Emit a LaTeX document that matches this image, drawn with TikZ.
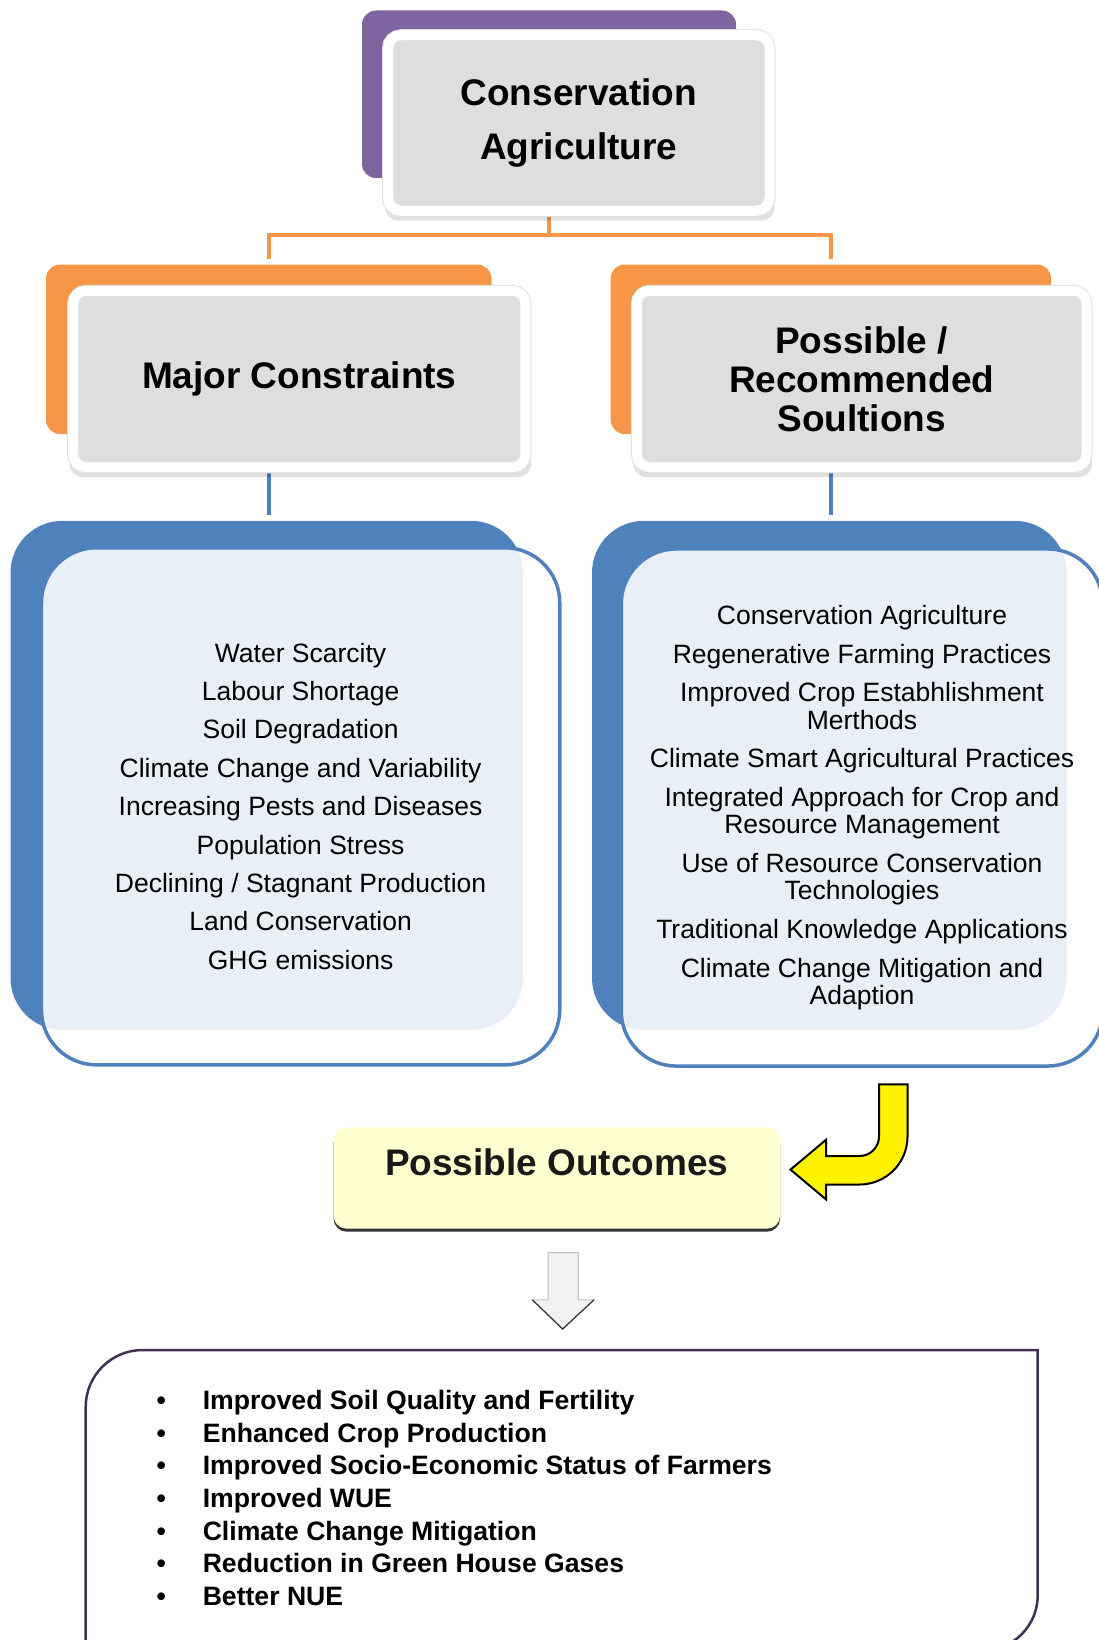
\documentclass[tikz,border=0pt]{standalone}
\usepackage{fontspec}
\setmainfont{Liberation Sans}
\usetikzlibrary{shadows,backgrounds}
\definecolor{caPurple}{RGB}{128,100,162}
\definecolor{ctOrange}{RGB}{247,150,70}
\definecolor{ctBlue}{RGB}{79,129,189}
\definecolor{boxGray}{RGB}{223,222,221}
\definecolor{outYellow}{RGB}{255,255,208}
\definecolor{listPurple}{RGB}{64,49,82}

\begin{document}
\begin{tikzpicture}[x=1pt, y=-1pt,
    backbox/.style={rounded corners=14pt, inner sep=0pt},
    headbox/.style={fill=boxGray, draw=white, line width=10pt, rounded corners=13pt, inner sep=0pt, align=center,
      drop shadow={shadow xshift=1pt, shadow yshift=-8pt, shadow scale=1.02, opacity=0.12, fill=black},
      preaction={draw=black!12, line width=12pt}},
    listbox/.style={fill=white, fill opacity=0.88, text opacity=1, draw=ctBlue, line width=3.5pt,
      rounded corners=55pt, inner sep=0pt, align=center},
    conn/.style={line width=4pt}]
  \useasboundingbox (0,0) rectangle (1099,1640);
  \clip (0,0) rectangle (1099,1640);

  \node[backbox, fill=caPurple, minimum width=374pt, minimum height=167.5pt] (caback) at (549,94.25) {};
  \node[headbox, minimum width=381.5pt, minimum height=175.5pt, font=\fontsize{37}{54}\selectfont\bfseries] (ca) at (578.75,123) {Conservation\\Agriculture};

  \node[backbox, fill=ctOrange, minimum width=445.5pt, minimum height=169.5pt] (mcback) at (268.75,349.25) {};
  \node[headbox, minimum width=452.2pt, minimum height=176.5pt, font=\fontsize{37}{40}\selectfont\bfseries] (mc) at (299.3,379) {Major Constraints};

  \node[backbox, fill=ctOrange, minimum width=440.3pt, minimum height=169.5pt] (rsback) at (830.85,349.25) {};
  \node[headbox, minimum width=449.7pt, minimum height=176.5pt, font=\fontsize{37}{39.2}\selectfont\bfseries] (rs) at (861.65,379) {Possible /\\Recommended\\Soultions};

  \node[backbox, fill=ctBlue, rounded corners=52pt, minimum width=512.5pt, minimum height=509.2pt] (lback) at (266.75,775.4) {};
  \node[listbox, minimum width=518.3pt, minimum height=517.1pt, font=\fontsize{26.5}{38.4}\selectfont] (lfront) at (300.6,806.3)
    {Water Scarcity\\Labour Shortage\\Soil Degradation\\Climate Change and Variability\\Increasing Pests and Diseases\\
     Population Stress\\Declining / Stagnant Production\\Land Conservation\\GHG emissions};

  \node[backbox, fill=ctBlue, rounded corners=52pt, minimum width=474.6pt, minimum height=509.2pt] (rback) at (829.3,775.4) {};
  \node[listbox, minimum width=481.5pt, minimum height=517.1pt, font=\fontsize{26.5}{27.2}\selectfont] (rfront) at (862,807.5)
    {Conservation Agriculture\\[11.5pt]Regenerative Farming Practices\\[11.5pt]Improved Crop Estabhlishment\\Merthods\\[11.5pt]
     Climate Smart Agricultural Practices\\[11.5pt]Integrated Approach for Crop and\\Resource Management\\[11.5pt]
     Use of Resource Conservation\\Technologies\\[11.5pt]Traditional Knowledge Applications\\[11.5pt]
     Climate Change Mitigation and\\Adaption};

  \begin{pgfonlayer}{background}
    \coordinate (bus) at (caback.south |- 0,235);
    \draw[conn, ctOrange] (caback.south) -- (bus);
    \draw[conn, ctOrange, shorten <=5.5pt, shorten >=5.5pt] (mcback.north) -- (bus -| mcback.north) -- (bus -| rsback.north) -- (rsback.north);
    \draw[conn, ctBlue, shorten >=6pt] (mcback.south) -- (mcback.south |- lback.north);
    \draw[conn, ctBlue, shorten >=6pt] (rsback.south) -- (rsback.south |- rback.north);
  \end{pgfonlayer}

  \node[fill=outYellow, rounded corners=13pt, minimum width=446.4pt, inner sep=0pt, text height=47.7pt, text depth=53.7pt,
    font=\fontsize{37}{40}\selectfont\bfseries, text=black!90,
    drop shadow={shadow xshift=0pt, shadow yshift=-3pt, opacity=1, fill=black!80}] (po) at (556.8,1178) {Possible Outcomes};

  \draw[fill=yellow, draw=black, line width=2pt] (879,1084.4) -- (907.5,1084.4) -- (907.5,1136.5)
    arc[start angle=0, end angle=90, radius=48] -- (826,1184.5) -- (826,1199.4) -- (790.5,1169.6) -- (826,1139.8)
    -- (826,1156) -- (859.5,1156) arc[start angle=90, end angle=0, radius=19.5] -- cycle;

  \draw[fill=gray!10, draw=gray!50, line width=1pt] (548,1252.7) -- (578.3,1252.7) -- (578.3,1299.8) -- (594,1299.8)
    -- (562.6,1329) -- (532.3,1299.8) -- (548,1299.8) -- cycle;
  \draw[black!80, line width=1.2pt] (594,1299.8) -- (562.6,1329) -- (532.3,1299.8);

  \node[minimum width=951.6pt, minimum height=300pt, anchor=north west, inner sep=0pt] (outbox) at (85.7,1350) {};
  \draw[listPurple, line width=2.5pt, fill=white] (outbox.south west) -- ([yshift=-57pt]outbox.north west)
    arc[start angle=180, end angle=270, radius=57] -- (outbox.north east) -- ([yshift=55pt]outbox.south east)
    arc[start angle=0, end angle=90, radius=55] -- cycle;
  \node[anchor=base west, inner sep=0pt, font=\fontsize{26.6}{32.6}\selectfont\bfseries] (outlist) at (156.3,1409.7)
    {\begin{tabular}[t]{@{}l@{\hspace{37pt}}l@{}}
      \textbullet & Improved Soil Quality and Fertility\\
      \textbullet & Enhanced Crop Production\\
      \textbullet & Improved Socio-Economic Status of Farmers\\
      \textbullet & Improved WUE\\
      \textbullet & Climate Change Mitigation\\
      \textbullet & Reduction in Green House Gases\\
      \textbullet & Better NUE
    \end{tabular}};
\end{tikzpicture}
\end{document}
